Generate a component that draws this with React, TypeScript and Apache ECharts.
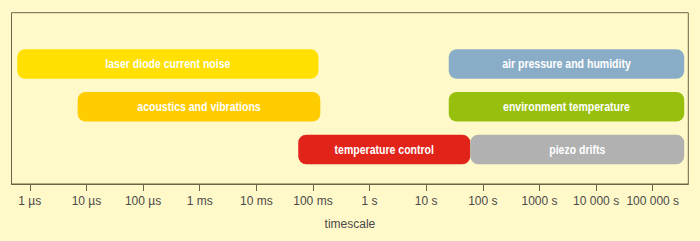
import React, { useEffect, useRef } from "react";
import * as echarts from "echarts";

// time ranges in seconds
const categories = [
  "laser diode current noise",
  "acoustics and vibrations",
  "temperature control",
  "air pressure and humidity",
  "environment temperature",
  "piezo drifts",
];
const startSeconds = [6e-7, 7e-6, 0.055, 25, 25, 60];
const endSeconds = [0.125, 0.135, 60, 360000, 360000, 360000];
const rows = [3, 2, 1, 3, 2, 1];
const colors = ["#FFE000", "#FFCC00", "#E2231A", "#8AADC7", "#97BF0D", "#B1B1B1"];

const tickExponents = [-6, -5, -4, -3, -2, -1, 0, 1, 2, 3, 4, 5];
const tickLabels = [
  "1 µs", "10 µs", "100 µs", "1 ms", "10 ms", "100 ms",
  "1 s", "10 s", "100 s", "1000 s", "10 000 s", "100 000 s",
];

export default function App() {
  const ref = useRef<HTMLDivElement>(null);
  useEffect(() => {
    if (!ref.current) return;
    const chart = echarts.init(ref.current, undefined, { renderer: "svg" });
    const data = categories.map((name, i) => ({
      name,
      value: [Math.log10(startSeconds[i]), Math.log10(endSeconds[i]), rows[i]],
      itemStyle: { color: colors[i] },
    }));
    chart.setOption({
      animation: false,
      backgroundColor: "#FFF8C8",
      grid: {
        left: 11.5,
        right: 11.7,
        top: 12.7,
        bottom: 57,
        show: true,
        borderColor: "#6B6447",
        borderWidth: 1,
        backgroundColor: "transparent",
      },
      xAxis: {
        type: "value",
        min: -6.323,
        max: 5.628,
        name: "timescale",
        nameLocation: "middle",
        nameGap: 34,
        nameTextStyle: { color: "#4a4a4a", fontSize: 12, fontFamily: "Liberation Sans, Arial, sans-serif" },
        splitLine: { show: false },
        axisLine: { show: true, lineStyle: { color: "#6B6447", width: 1 } },
        axisTick: {
          show: true,
          length: 7,
          lineStyle: { color: "#6B6447" },
          customValues: tickExponents,
        },
        axisLabel: {
          customValues: tickExponents,
          margin: 11,
          color: "#4a4a4a",
          fontSize: 12,
          fontFamily: "Liberation Sans, Arial, sans-serif",
          formatter: (v: number) => {
            const i = tickExponents.indexOf(Math.round(v));
            return i >= 0 && Math.abs(v - Math.round(v)) < 1e-6 ? tickLabels[i] : "";
          },
        },
      },
      yAxis: {
        type: "value",
        min: 0.193,
        max: 4.2,
        show: false,
        splitLine: { show: false },
      },
      series: [
        {
          type: "custom",
          clip: false,
          encode: { x: [0, 1], y: 2 },
          data,
          renderItem: (params: any, api: any) => {
            const s = api.coord([api.value(0), api.value(2)]);
            const e = api.coord([api.value(1), api.value(2)]);
            const h = api.size([0, 0.69])[1];
            const color = api.visual("color");
            return {
              type: "group",
              children: [
                {
                  type: "rect",
                  shape: { x: s[0], y: s[1] - h / 2, width: e[0] - s[0], height: h, r: 8 },
                  style: { fill: colors[params.dataIndex] || color },
                },
                {
                  type: "text",
                  x: (s[0] + e[0]) / 2,
                  y: s[1],
                  scaleX: 0.78,
                  style: {
                    text: categories[params.dataIndex],
                    x: 0,
                    y: 0,
                    align: "center",
                    verticalAlign: "middle",
                    fill: "#FFFFFF",
                    fontSize: 13.5,
                    fontWeight: "bold",
                    fontFamily: "'Liberation Sans', Arial, sans-serif",
                  },
                },
              ],
            };
          },
        },
      ],
    });
    return () => chart.dispose();
  }, []);
  return <div ref={ref} style={{ width: 700, height: 241, position: "absolute", left: 0, top: 0 }} />;
}
